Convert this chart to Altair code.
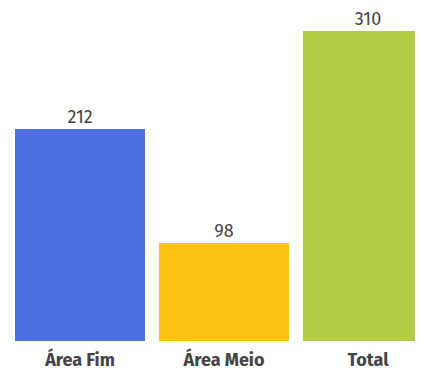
import altair as alt
import pandas as pd

categories = ["Área Fim", "Área Meio", "Total"]
values = [212, 98, 310]
colors = ["#4D6FE0", "#FCC314", "#B2CC46"]

df = pd.DataFrame({"cat": categories, "val": values, "color": colors})

FONT = "Fira Sans, Open Sans, sans-serif"

x = alt.X("cat:N", sort=categories, title=None,
          scale=alt.Scale(range=[0, 432], paddingInner=14/144, paddingOuter=7/144),
          axis=alt.Axis(labelAngle=0, domain=False, ticks=False, labelFontSize=18,
                        labelFontWeight="bold", labelColor="#444444", labelFont=FONT,
                        labelBaseline="alphabetic", labelPadding=24))
y = alt.Y("val:Q", scale=alt.Scale(domain=[0, 333], nice=False), axis=None)

bars = alt.Chart(df).mark_bar().encode(x=x, y=y, color=alt.Color("color:N", scale=None))
labels = alt.Chart(df).mark_text(baseline="bottom", dy=-2, fontSize=18, color="#444444",
                                 font=FONT).encode(x=x, y=y, text="val:Q")

chart = (bars + labels).properties(
    width=407, height=333,
    autosize=alt.AutoSizeParams(type="none"),
    padding={"left": 0, "top": 0, "right": 0, "bottom": 27},
).configure_view(stroke=None)
chart.save("out.html", embed_options={"renderer": "svg", "actions": False})
